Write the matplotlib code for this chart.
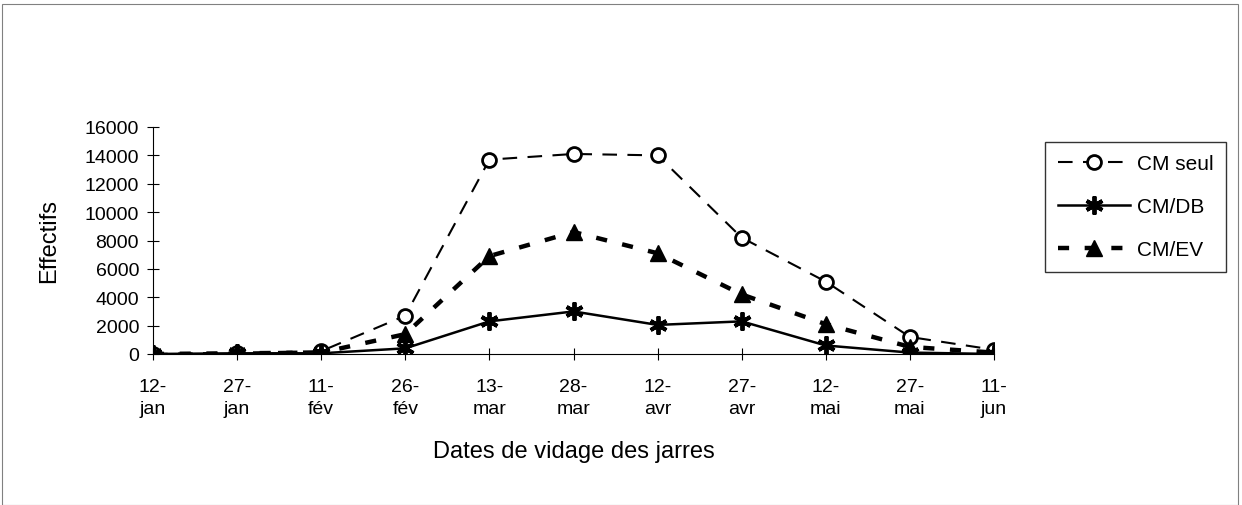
import matplotlib.pyplot as plt
from matplotlib.patches import Rectangle

plt.rcParams['font.family'] = ['Liberation Sans', 'DejaVu Sans']

# Dates de vidage
dates = ['12-\njan', '27-\njan', '11-\nfév', '26-\nfév', '13-\nmar', '28-\nmar',
         '12-\navr', '27-\navr', '12-\nmai', '27-\nmai', '11-\njun']

cm_seul = [0, 100, 200, 2700, 13700, 14100, 14000, 8200, 5100, 1200, 300]
cm_db = [0, 50, 50, 400, 2300, 3000, 2050, 2300, 600, 100, 0]
cm_ev = [0, 50, 100, 1400, 6900, 8600, 7100, 4200, 2100, 500, 100]

x = list(range(len(dates)))

fig = plt.figure(figsize=(12.42, 5.06), dpi=100)
ax = fig.add_axes([153 / 1242, 1 - 355 / 506, (994 - 153) / 1242, (355 - 128) / 506])

ax.plot(x, cm_seul, color='black', linestyle=(0, (7, 5)), linewidth=1.5,
        marker='o', markersize=10, markerfacecolor='white', markeredgewidth=2,
        label='CM seul')
ax.plot(x, cm_db, color='black', linestyle='-', linewidth=1.8,
        marker=(6, 2, 0), markersize=13, markeredgewidth=2.8, label='CM/DB')
ax.plot(x, cm_ev, color='black', linestyle=(0, (2.5, 3.5)), linewidth=3.2,
        marker='^', markersize=11, label='CM/EV')

ax.set_xlim(0, len(dates) - 1)
ax.set_ylim(0, 16000)
ax.set_yticks(range(0, 16001, 2000))
ax.set_xticks(x)
ax.set_xticklabels(dates, fontsize=14, linespacing=1.45)
ax.tick_params(axis='y', labelsize=14, direction='inout', length=8, pad=6)
ax.tick_params(axis='x', direction='inout', length=8, pad=13)
for s in ['top', 'right']:
    ax.spines[s].set_visible(False)

ax.set_ylabel('Effectifs', fontsize=17)
ax.yaxis.set_label_coords(-(153 - 60) / 841, 0.5)
ax.set_xlabel('Dates de vidage des jarres', fontsize=17)
ax.xaxis.set_label_coords(0.5, -(441 - 355) / 227)

leg = fig.legend(loc='upper left', bbox_to_anchor=(1045 / 1242, 1 - 143 / 506),
                 fontsize=15, frameon=True, fancybox=False, edgecolor='black',
                 handlelength=3.5, borderpad=0.6, labelspacing=1.15,
                 handletextpad=0.3, borderaxespad=0)
leg.get_frame().set_linewidth(1)

fig.patches.append(Rectangle((2 / 1242, 0.0), 1236 / 1242, 1 - 5 / 506,
                             transform=fig.transFigure, fill=False,
                             edgecolor='gray', linewidth=0.8))

fig.savefig('out.png', dpi=100)
